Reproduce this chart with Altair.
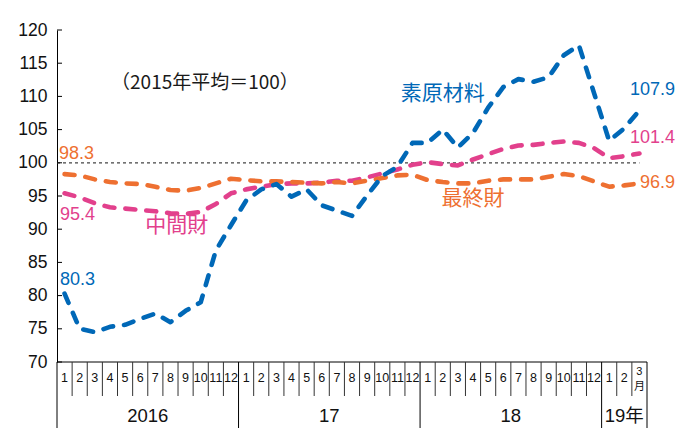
import altair as alt
import pandas as pd

# ---- data ----
months = [1, 2, 3, 4, 5, 6, 7, 8, 9, 10, 11, 12] * 3 + [1, 2, 3]
years = ["2016", "17", "18", "19年"]
year_start = [0, 12, 24, 36]
year_end = [12, 24, 36, 39]

raw = [80.3, 75.0, 74.5, 75.3, 75.6, 76.5, 77.3, 76.0, 77.7, 79.0, 86.8, 90.6,
       94.3, 96.0, 96.8, 94.9, 96.0, 93.6, 92.8, 92.0, 95.1, 98.0, 99.4, 103.0,
       103.0, 105.0, 102.3, 104.5, 108.3, 111.4, 112.6, 112.2, 112.9, 116.2, 117.7, 110.5,
       103.3, 105.2, 107.9]
inter = [95.4, 94.8, 93.9, 93.3, 93.1, 92.9, 92.7, 92.4, 92.3, 92.6, 93.8, 95.4,
         96.0, 96.4, 96.8, 96.9, 96.9, 97.0, 97.3, 97.3, 97.8, 98.4, 99.0, 99.7,
         100.1, 99.8, 99.6, 100.5, 101.3, 102.1, 102.6, 102.7, 103.0, 103.2, 103.0, 102.2,
         100.7, 101.0, 101.4]
final = [98.3, 98.1, 97.5, 97.1, 96.9, 96.8, 96.4, 95.9, 95.8, 96.2, 96.9, 97.6,
         97.4, 97.2, 97.2, 97.1, 97.0, 96.9, 97.1, 96.9, 97.3, 97.7, 98.1, 98.2,
         97.4, 97.1, 96.9, 96.9, 97.3, 97.5, 97.5, 97.5, 97.9, 98.3, 98.0, 97.2,
         96.4, 96.6, 96.9]

series_names = ["中間財", "最終財", "素原材料"]
series_vals = [inter, final, raw]
series_colors = ["#e2408c", "#ee7031", "#0068b7"]

y_ticks = [70, 75, 80, 85, 90, 95, 100, 105, 110, 115, 120]
ref_value = 100

# annotations: text, x (month units), y (value), colour, align, font, size
note_text = ["（2015年平均＝100）", "素原材料", "中間財", "最終財",
             "98.3", "95.4", "80.3", "107.9", "101.4", "96.9"]
note_x = [9.78, 25.5, 7.91, 27.5, 0.13, 0.2, 0.2, 40.85, 40.85, 40.85]
note_y = [112.0, 110.4, 90.5, 94.6, 101.4, 92.2, 82.35, 111.0, 103.8, 96.9]
note_color = ["#1a1a1a", "#0068b7", "#e2408c", "#ee7031",
              "#ee7031", "#e2408c", "#0068b7", "#0068b7", "#e2408c", "#ee7031"]
note_align = ["center", "center", "center", "center",
              "left", "left", "left", "right", "right", "right"]
CJK = "Noto Sans CJK JP"
SANS = "Liberation Sans"
note_font = [CJK, CJK, CJK, CJK, SANS, SANS, SANS, SANS, SANS, SANS]
note_size = [19, 21, 21, 21, 18, 18, 18, 18, 18, 18]

# ---- scales ----
n = len(months)
xs = alt.Scale(domain=[0, n], nice=False, zero=False)
ys = alt.Scale(domain=[70, 120], nice=False, zero=False)
yaxis = alt.Axis(values=y_ticks, ticks=False, tickSize=0, labelPadding=10, grid=False,
                 domainColor="#000", domainWidth=1, labelFont=SANS, labelFontSize=17.5,
                 labelColor="#111", title=None)


def X(f):
    return alt.X(f, type="quantitative", scale=xs, axis=None)


def Y(f):
    return alt.Y(f, type="quantitative", scale=ys, axis=yaxis)


layers = []

# reference dotted line at 100
ref_df = pd.DataFrame({"x0": [0], "x1": [n - 0.5], "v": [ref_value]})
layers.append(alt.Chart(ref_df).mark_rule(color="#444", strokeWidth=1.2, strokeDash=[3, 3])
              .encode(x=X("x0"), x2="x1", y=Y("v")))

# series lines
for name, vals, col in zip(series_names, series_vals, series_colors):
    d = pd.DataFrame({"pos": [i + 0.5 for i in range(n)], "value": vals})
    layers.append(alt.Chart(d).mark_line(color=col, strokeWidth=4.6, strokeDash=[10, 11],
                                         strokeCap="round", strokeJoin="round")
                  .encode(x=X("pos"), y=Y("value")))

# inward y ticks
tick_df = pd.DataFrame({"t": y_ticks})
layers.append(alt.Chart(tick_df).mark_rule(color="#000", strokeWidth=1)
              .encode(y=Y("t"), x=alt.value(0), x2=alt.value(5)))

# x axis baseline
base_df = pd.DataFrame({"a": [0], "b": [n], "v": [70]})
layers.append(alt.Chart(base_df).mark_rule(color="#000", strokeWidth=1)
              .encode(x=X("a"), x2="b", y=Y("v")))

# month separators
sep = [k for k in range(1, n) if k not in year_start]
sep_df = pd.DataFrame({"k": sep})
layers.append(alt.Chart(sep_df).mark_rule(color="#333", strokeWidth=1)
              .encode(x=X("k"), y=alt.value(332), y2=alt.value(366)))

# year separators
ysep_df = pd.DataFrame({"k": year_start + [n]})
layers.append(alt.Chart(ysep_df).mark_rule(color="#000", strokeWidth=1)
              .encode(x=X("k"), y=alt.value(332), y2=alt.value(400)))

# month labels
mlab = pd.DataFrame({"pos": [i + 0.5 for i in range(n - 1)],
                     "m": [str(m) for m in months[:-1]]})
layers.append(alt.Chart(mlab).mark_text(font=SANS, fontSize=12.5, color="#111", baseline="middle")
              .encode(x=X("pos"), y=alt.value(348), text="m:N"))
last_df = pd.DataFrame({"pos": [n - 0.5], "m": [str(months[-1])]})
layers.append(alt.Chart(last_df).mark_text(font=SANS, fontSize=11, color="#111", baseline="middle")
              .encode(x=X("pos"), y=alt.value(342), text="m:N"))
layers.append(alt.Chart(last_df).mark_text(font=CJK, fontSize=11, color="#111", baseline="middle",
                                           text="月")
              .encode(x=X("pos"), y=alt.value(357)))

# year labels
ylab = pd.DataFrame({"c": [(a + b) / 2 for a, b in zip(year_start, year_end)], "y": years})
layers.append(alt.Chart(ylab).mark_text(font=SANS + ", " + CJK, fontSize=18.5, color="#111",
                                        baseline="middle")
              .encode(x=X("c"), y=alt.value(386), text="y:N"))

# annotations
for t, nx, ny, c, al, fn, sz in zip(note_text, note_x, note_y, note_color, note_align,
                                    note_font, note_size):
    d = pd.DataFrame({"x": [nx], "y": [ny], "t": [t]})
    layers.append(alt.Chart(d).mark_text(font=fn, fontSize=sz, color=c, align=al,
                                         baseline="middle")
                  .encode(x=X("x"), y=Y("y"), text="t:N"))

chart = alt.layer(*layers).properties(
    width=590, height=332,
    autosize=alt.AutoSizeParams(type="none"),
    padding={"left": 49, "top": 22, "right": 35, "bottom": 66},
    background="white",
).configure_view(strokeWidth=0)

chart.save("out.html", embed_options={"renderer": "svg", "actions": False})
